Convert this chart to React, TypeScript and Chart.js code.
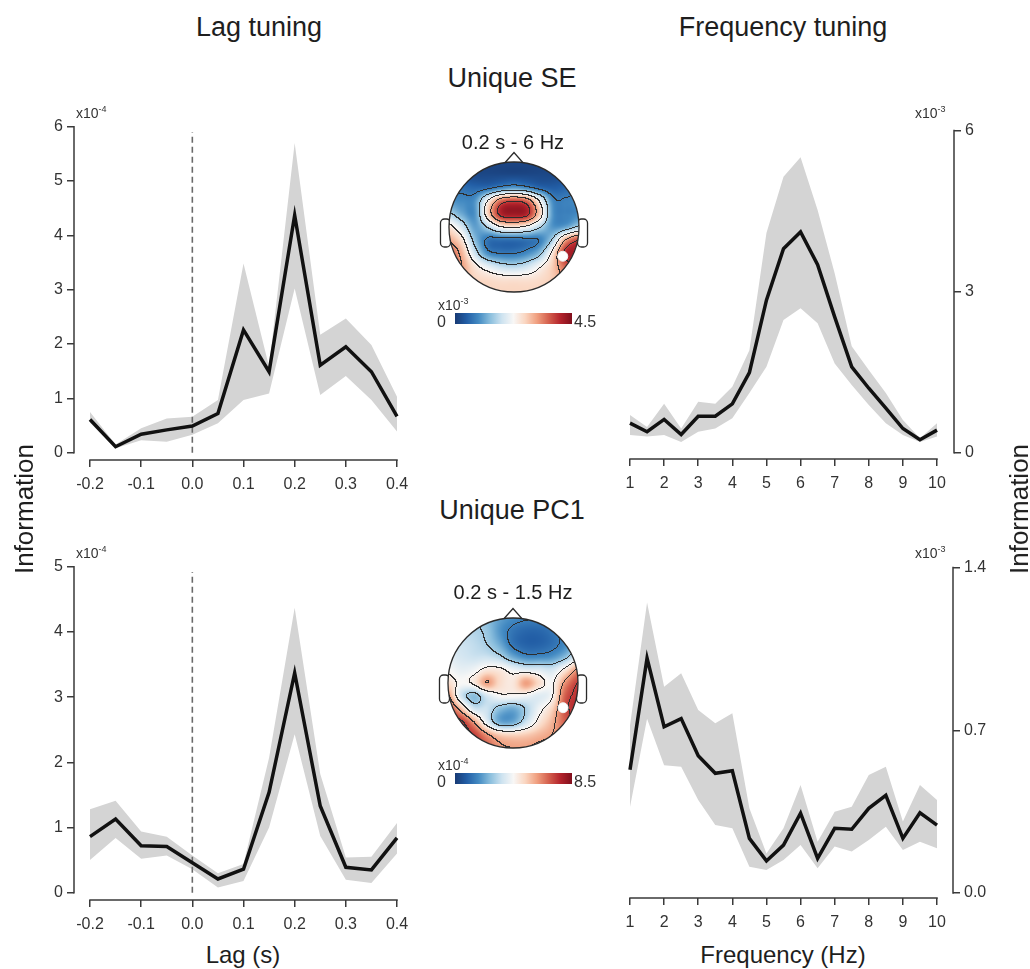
import React, { useEffect, useRef } from "react";
import { Chart, registerables } from "chart.js";

Chart.register(...registerables);

const FONT = '"Liberation Sans", Arial, Helvetica, sans-serif';

// ---------------- data ----------------
const lagValues = [-0.2, -0.15, -0.1, -0.05, 0.0, 0.05, 0.1, 0.15, 0.2, 0.25, 0.3, 0.35, 0.4];
const freqValues = [1, 1.5, 2, 2.5, 3, 3.5, 4, 4.5, 5, 5.5, 6, 6.5, 7, 7.5, 8, 8.5, 9, 9.5, 10];

// Unique SE — lag tuning (x10^-4)
const seLagMean = [0.61, 0.11, 0.34, 0.42, 0.49, 0.72, 2.26, 1.49, 4.37, 1.61, 1.95, 1.49, 0.67];
const seLagUpper = [0.75, 0.15, 0.45, 0.63, 0.66, 0.97, 3.48, 1.58, 5.7, 2.17, 2.47, 1.98, 1.03];
const seLagLower = [0.55, 0.08, 0.23, 0.2, 0.33, 0.54, 0.97, 1.09, 3.02, 1.06, 1.41, 0.97, 0.39];

// Unique SE — frequency tuning (x10^-3)
const seFreqMean = [0.55, 0.39, 0.62, 0.34, 0.68, 0.68, 0.91, 1.49, 2.84, 3.8, 4.11, 3.5, 2.53, 1.6, 1.2, 0.83, 0.45, 0.24, 0.42];
const seFreqUpper = [0.7, 0.48, 0.91, 0.45, 0.95, 0.91, 1.23, 1.91, 4.09, 5.14, 5.5, 4.52, 3.34, 1.98, 1.54, 1.11, 0.61, 0.27, 0.55];
const seFreqLower = [0.33, 0.3, 0.33, 0.2, 0.39, 0.45, 0.64, 1.11, 1.6, 2.47, 2.69, 2.41, 1.66, 1.26, 0.89, 0.55, 0.33, 0.2, 0.3];

// Unique PC1 — lag tuning (x10^-4)
const pc1LagMean = [0.86, 1.13, 0.72, 0.71, 0.46, 0.21, 0.36, 1.54, 3.37, 1.33, 0.39, 0.35, 0.84];
const pc1LagUpper = [1.28, 1.41, 0.94, 0.86, 0.57, 0.3, 0.44, 2.07, 4.37, 1.82, 0.54, 0.55, 1.07];
const pc1LagLower = [0.5, 0.84, 0.52, 0.57, 0.36, 0.08, 0.18, 1.0, 2.43, 0.87, 0.2, 0.15, 0.6];

// Unique PC1 — frequency tuning (x10^-3)
const pc1FreqMean = [0.53, 1.01, 0.715, 0.75, 0.59, 0.515, 0.526, 0.235, 0.138, 0.206, 0.343, 0.149, 0.278, 0.274, 0.364, 0.42, 0.235, 0.345, 0.292];
const pc1FreqUpper = [0.72, 1.25, 0.887, 0.945, 0.787, 0.73, 0.773, 0.364, 0.17, 0.278, 0.465, 0.22, 0.35, 0.371, 0.507, 0.543, 0.307, 0.465, 0.4];
const pc1FreqLower = [0.37, 0.75, 0.55, 0.543, 0.4, 0.292, 0.278, 0.113, 0.099, 0.142, 0.206, 0.106, 0.2, 0.178, 0.228, 0.285, 0.185, 0.22, 0.192];

// ticks
const lagTicks = [-0.2, -0.1, 0, 0.1, 0.2, 0.3, 0.4];
const lagTickLabels = ["-0.2", "-0.1", "0.0", "0.1", "0.2", "0.3", "0.4"];
const freqTicks = [1, 2, 3, 4, 5, 6, 7, 8, 9, 10];
const freqTickLabels = ["1", "2", "3", "4", "5", "6", "7", "8", "9", "10"];
const seLagYTicks = [0, 1, 2, 3, 4, 5, 6];
const seLagYLabels = ["0", "1", "2", "3", "4", "5", "6"];
const seFreqYTicks = [0, 3, 6];
const seFreqYLabels = ["0", "3", "6"];
const pc1LagYTicks = [0, 1, 2, 3, 4, 5];
const pc1LagYLabels = ["0", "1", "2", "3", "4", "5"];
const pc1FreqYTicks = [0, 0.7, 1.4];
const pc1FreqYLabels = ["0.0", "0.7", "1.4"];

// dashed zero-lag marker heights
const seLagZeroTop = 5.9;
const pc1LagZeroTop = 4.92;

// topographies (normalised 0..1 of colour range), rows front(top) -> back(bottom), cols left -> right
const seTopoGrid = [
  [0.03, 0.03, 0.03, 0.03, 0.03, 0.03, 0.03, 0.03, 0.03, 0.03, 0.03],
  [0.06, 0.05, 0.04, 0.04, 0.04, 0.04, 0.04, 0.04, 0.04, 0.05, 0.06],
  [0.16, 0.14, 0.12, 0.14, 0.2, 0.24, 0.2, 0.13, 0.1, 0.12, 0.15],
  [0.22, 0.2, 0.22, 0.52, 0.78, 0.84, 0.78, 0.5, 0.2, 0.18, 0.2],
  [0.36, 0.26, 0.22, 0.6, 0.9, 0.94, 0.9, 0.6, 0.22, 0.18, 0.2],
  [0.56, 0.42, 0.24, 0.36, 0.52, 0.55, 0.5, 0.36, 0.22, 0.25, 0.36],
  [0.68, 0.56, 0.3, 0.15, 0.14, 0.14, 0.15, 0.18, 0.36, 0.7, 0.85],
  [0.8, 0.66, 0.4, 0.2, 0.16, 0.16, 0.2, 0.3, 0.56, 0.9, 0.92],
  [0.8, 0.7, 0.55, 0.45, 0.38, 0.36, 0.4, 0.5, 0.62, 0.8, 0.82],
  [0.72, 0.66, 0.6, 0.58, 0.56, 0.56, 0.56, 0.58, 0.62, 0.7, 0.72],
  [0.62, 0.62, 0.62, 0.6, 0.6, 0.6, 0.6, 0.6, 0.62, 0.62, 0.62],
];
const pc1TopoGrid = [
  [0.38, 0.36, 0.34, 0.3, 0.24, 0.2, 0.18, 0.18, 0.2, 0.24, 0.3],
  [0.4, 0.38, 0.36, 0.32, 0.22, 0.15, 0.12, 0.12, 0.15, 0.22, 0.3],
  [0.42, 0.4, 0.38, 0.34, 0.26, 0.15, 0.11, 0.11, 0.14, 0.2, 0.3],
  [0.45, 0.42, 0.4, 0.4, 0.36, 0.26, 0.2, 0.2, 0.22, 0.3, 0.45],
  [0.5, 0.46, 0.48, 0.55, 0.54, 0.48, 0.45, 0.44, 0.42, 0.55, 0.72],
  [0.58, 0.5, 0.54, 0.7, 0.58, 0.55, 0.7, 0.58, 0.5, 0.72, 0.86],
  [0.72, 0.42, 0.3, 0.42, 0.5, 0.5, 0.48, 0.44, 0.5, 0.8, 0.88],
  [0.85, 0.65, 0.42, 0.4, 0.3, 0.26, 0.35, 0.48, 0.6, 0.82, 0.9],
  [0.9, 0.88, 0.7, 0.45, 0.26, 0.26, 0.4, 0.55, 0.66, 0.8, 0.86],
  [0.92, 0.9, 0.86, 0.72, 0.62, 0.6, 0.62, 0.66, 0.7, 0.76, 0.8],
  [0.92, 0.9, 0.88, 0.8, 0.72, 0.7, 0.7, 0.72, 0.74, 0.78, 0.8],
];
const seElectrode = [{ x: 0.75, y: -0.45 }];
const pc1Electrode = [{ x: 0.77, y: -0.38 }];
const seColorbarLabels = ["0", "4.5"];
const pc1ColorbarLabels = ["0", "8.5"];

// ---------------- styles ----------------
const CMAP: [number, number[]][] = [
  [0.0, [24, 58, 116]],
  [0.1, [34, 94, 166]],
  [0.2, [67, 138, 194]],
  [0.3, [138, 190, 221]],
  [0.4, [206, 227, 240]],
  [0.5, [248, 247, 246]],
  [0.6, [250, 214, 193]],
  [0.7, [240, 160, 128]],
  [0.8, [212, 96, 78]],
  [0.9, [180, 36, 44]],
  [1.0, [128, 14, 28]],
];
const CONTOUR_LEVELS = [0.17, 0.34, 0.52, 0.7, 0.86];

function cmap(t: number): number[] {
  const v = Math.max(0, Math.min(1, t));
  for (let i = 1; i < CMAP.length; i++) {
    if (v <= CMAP[i][0]) {
      const [t0, c0] = CMAP[i - 1];
      const [t1, c1] = CMAP[i];
      const f = (v - t0) / (t1 - t0);
      return [c0[0] + (c1[0] - c0[0]) * f, c0[1] + (c1[1] - c0[1]) * f, c0[2] + (c1[2] - c0[2]) * f];
    }
  }
  return CMAP[CMAP.length - 1][1];
}

function cr(p0: number, p1: number, p2: number, p3: number, t: number) {
  return p1 + 0.5 * t * (p2 - p0 + t * (2 * p0 - 5 * p1 + 4 * p2 - p3 + t * (3 * (p1 - p2) + p3 - p0)));
}

function sampleGrid(g: number[][], u: number, v: number) {
  const rows = g.length;
  const cols = g[0].length;
  const gx = ((u + 1) / 2) * (cols - 1);
  const gy = ((1 - v) / 2) * (rows - 1);
  const ix = Math.floor(gx);
  const iy = Math.floor(gy);
  const fx = gx - ix;
  const fy = gy - iy;
  const at = (r: number, c: number) => g[Math.max(0, Math.min(rows - 1, r))][Math.max(0, Math.min(cols - 1, c))];
  const rv: number[] = [];
  for (let k = -1; k <= 2; k++) rv.push(cr(at(iy + k, ix - 1), at(iy + k, ix), at(iy + k, ix + 1), at(iy + k, ix + 2), fx));
  return cr(rv[0], rv[1], rv[2], rv[3], fy);
}

// ---------------- line chart ----------------
type Box = { left: number; top: number; width: number; height: number };
type LineProps = {
  box: Box;
  ySide: "left" | "right";
  yAxisPx: number;
  xAxisPx: number;
  xFirstPx: number;
  xLastPx: number;
  yZeroPx: number;
  yTopPx: number;
  xVals: number[];
  mean: number[];
  upper: number[];
  lower: number[];
  xTicks: number[];
  xLabels: string[];
  yTicks: number[];
  yLabels: string[];
  dashTop?: number;
};

const axisLinePlugin = {
  id: "axisLines",
  afterDraw(chart: any) {
    const { ctx, chartArea } = chart;
    const xs = chart.scales.x;
    const ys = chart.scales.y;
    const xt = xs.ticks;
    const yt = ys.ticks;
    ctx.save();
    ctx.strokeStyle = "#3a3a3a";
    ctx.lineWidth = 1.5;
    ctx.beginPath();
    ctx.moveTo(xs.getPixelForValue(xt[0].value) - 0.75, chartArea.bottom);
    ctx.lineTo(xs.getPixelForValue(xt[xt.length - 1].value) + 0.75, chartArea.bottom);
    const yx = ys.position === "left" ? chartArea.left : chartArea.right;
    ctx.moveTo(yx, ys.getPixelForValue(yt[0].value) + 0.75);
    ctx.lineTo(yx, ys.getPixelForValue(yt[yt.length - 1].value) - 0.75);
    ctx.stroke();
    ctx.restore();
  },
};

function LineChart(p: LineProps) {
  const ref = useRef<HTMLCanvasElement>(null);
  useEffect(() => {
    const yW = 50;
    const xH = 40;
    const xFirst = p.xTicks[0];
    const xLast = p.xTicks[p.xTicks.length - 1];
    const xppu = (p.xLastPx - p.xFirstPx) / (xLast - xFirst);
    const yTop = p.yTicks[p.yTicks.length - 1];
    const yppu = (p.yZeroPx - p.yTopPx) / yTop;
    let areaLeft: number, areaRight: number, xMin: number, xMax: number;
    if (p.ySide === "left") {
      areaLeft = p.yAxisPx;
      areaRight = p.xLastPx;
      xMin = xFirst - (p.xFirstPx - p.yAxisPx) / xppu;
      xMax = xLast;
    } else {
      areaLeft = p.xFirstPx;
      areaRight = p.yAxisPx;
      xMin = xFirst;
      xMax = xLast + (p.yAxisPx - p.xLastPx) / xppu;
    }
    const yMin = -(p.xAxisPx - p.yZeroPx) / yppu;
    const padding = {
      left: areaLeft - p.box.left - (p.ySide === "left" ? yW : 0),
      right: p.box.left + p.box.width - areaRight - (p.ySide === "right" ? yW : 0),
      top: p.yTopPx - p.box.top,
      bottom: p.box.top + p.box.height - p.xAxisPx - xH,
    };
    const pts = (ys: number[]) => p.xVals.map((x, i) => ({ x, y: ys[i] }));
    const datasets: any[] = [
      {
        label: "mean",
        data: pts(p.mean),
        borderColor: "#111111",
        borderWidth: 3.5,
        borderJoinStyle: "miter",
        pointRadius: 0,
        fill: false,
        clip: false,
        order: 0,
      },
    ];
    if (p.dashTop !== undefined) {
      datasets.push({
        label: "zero",
        data: [
          { x: 0, y: 0 },
          { x: 0, y: p.dashTop },
        ],
        borderColor: "#6a6a6a",
        borderWidth: 1.6,
        borderDash: [6, 4],
        pointRadius: 0,
        fill: false,
        order: 1,
      });
    }
    datasets.push({
      label: "upper",
      data: pts(p.upper),
      borderColor: "rgba(0,0,0,0)",
      borderWidth: 0,
      backgroundColor: "#d4d4d4",
      pointRadius: 0,
      fill: "+1",
      order: 2,
    });
    datasets.push({
      label: "lower",
      data: pts(p.lower),
      borderColor: "rgba(0,0,0,0)",
      borderWidth: 0,
      pointRadius: 0,
      fill: false,
      order: 3,
    });
    const tickFont = { family: FONT, size: 16 };
    const grid = { display: true, drawOnChartArea: false, drawTicks: true, tickLength: 7, color: "#3a3a3a", lineWidth: 1.5 };
    const chart = new Chart(ref.current as HTMLCanvasElement, {
      type: "line",
      data: { datasets },
      options: {
        animation: false,
        responsive: false,
        events: [],
        layout: { padding },
        plugins: { legend: { display: false }, tooltip: { enabled: false }, title: { display: false } },
        scales: {
          x: {
            type: "linear",
            min: xMin,
            max: xMax,
            bounds: "data",
            position: "bottom",
            afterBuildTicks: (s: any) => {
              s.ticks = p.xTicks.map((v) => ({ value: v }));
            },
            afterFit: (s: any) => {
              s.height = xH;
            },
            ticks: {
              callback: (_v: any, i: number) => p.xLabels[i],
              font: tickFont,
              color: "#333",
              padding: 8,
              maxRotation: 0,
              autoSkip: false,
            },
            grid,
            border: { display: false },
          },
          y: {
            type: "linear",
            min: yMin,
            max: yTop,
            bounds: "data",
            position: p.ySide,
            afterBuildTicks: (s: any) => {
              s.ticks = p.yTicks.map((v) => ({ value: v }));
            },
            afterFit: (s: any) => {
              s.width = yW;
            },
            ticks: {
              callback: (_v: any, i: number) => p.yLabels[i],
              font: tickFont,
              color: "#333",
              padding: 4,
              autoSkip: false,
            },
            grid,
            border: { display: false },
          },
        },
      } as any,
      plugins: [axisLinePlugin],
    });
    return () => chart.destroy();
  }, []);
  return (
    <canvas
      ref={ref}
      width={p.box.width}
      height={p.box.height}
      style={{ position: "absolute", left: p.box.left, top: p.box.top, width: p.box.width, height: p.box.height }}
    />
  );
}

// ---------------- topography ----------------
type TopoProps = { grid: number[][]; electrode: { x: number; y: number }[]; left: number; top: number };

function TopoMap({ grid, electrode, left, top }: TopoProps) {
  const ref = useRef<HTMLCanvasElement>(null);
  useEffect(() => {
    const headPlugin = {
      id: "head",
      beforeDatasetsDraw(chart: any) {
        const { ctx } = chart;
        const xs = chart.scales.x;
        const ys = chart.scales.y;
        const cx = xs.getPixelForValue(0);
        const cy = ys.getPixelForValue(0);
        const r = xs.getPixelForValue(1) - cx;
        ctx.save();
        ctx.lineWidth = 1.3;
        ctx.strokeStyle = "#2a2a2a";
        ctx.fillStyle = "#ffffff";
        // ears
        for (const side of [-1, 1]) {
          const ex = side < 0 ? cx - r - 8.5 : cx + r - 1.5;
          ctx.beginPath();
          ctx.roundRect(ex, cy - 8, 10, 28, 4);
          ctx.fill();
          ctx.stroke();
        }
        // nose
        ctx.beginPath();
        ctx.moveTo(cx - 12, cy - r + 4);
        ctx.lineTo(cx, cy - r - 9.5);
        ctx.lineTo(cx + 12, cy - r + 4);
        ctx.closePath();
        ctx.fill();
        ctx.stroke();
        // interpolated map
        const S = Math.round(2 * r);
        const off = document.createElement("canvas");
        off.width = S;
        off.height = S;
        const octx = off.getContext("2d") as CanvasRenderingContext2D;
        const img = octx.createImageData(S, S);
        const lev = new Int8Array(S * S);
        const vals = new Float32Array(S * S);
        for (let py = 0; py < S; py++) {
          for (let px = 0; px < S; px++) {
            const u = ((px + 0.5) / S) * 2 - 1;
            const v = 1 - ((py + 0.5) / S) * 2;
            const val = sampleGrid(grid, u, v);
            vals[py * S + px] = val;
            let l = 0;
            for (const c of CONTOUR_LEVELS) if (val > c) l++;
            lev[py * S + px] = l;
          }
        }
        for (let py = 0; py < S; py++) {
          for (let px = 0; px < S; px++) {
            const k = py * S + px;
            let col = cmap(vals[k]);
            const isC =
              (px + 1 < S && lev[k] !== lev[k + 1]) || (py + 1 < S && lev[k] !== lev[k + S]);
            if (isC) col = [45, 45, 45];
            img.data[k * 4] = col[0];
            img.data[k * 4 + 1] = col[1];
            img.data[k * 4 + 2] = col[2];
            img.data[k * 4 + 3] = 255;
          }
        }
        octx.putImageData(img, 0, 0);
        ctx.save();
        ctx.beginPath();
        ctx.arc(cx, cy, r, 0, Math.PI * 2);
        ctx.clip();
        ctx.drawImage(off, cx - r, cy - r, S, S);
        ctx.restore();
        ctx.beginPath();
        ctx.arc(cx, cy, r, 0, Math.PI * 2);
        ctx.stroke();
        ctx.restore();
      },
    };
    const chart = new Chart(ref.current as HTMLCanvasElement, {
      type: "scatter",
      data: {
        datasets: [
          {
            data: electrode,
            pointRadius: 5,
            pointBackgroundColor: "#ffffff",
            pointBorderColor: "#f2f2f2",
            pointBorderWidth: 1,
          },
        ],
      },
      options: {
        animation: false,
        responsive: false,
        events: [],
        layout: { padding: 0 },
        plugins: { legend: { display: false }, tooltip: { enabled: false } },
        scales: {
          x: { type: "linear", display: false, min: -1.215, max: 1.215 },
          y: { type: "linear", display: false, min: -1.215, max: 1.215 },
        },
      } as any,
      plugins: [headPlugin],
    });
    return () => chart.destroy();
  }, []);
  return (
    <canvas ref={ref} width={170} height={170} style={{ position: "absolute", left, top, width: 170, height: 170 }} />
  );
}

// ---------------- text helpers ----------------
function T({ x, y, size, children, rotate }: { x: number; y: number; size: number; children: any; rotate?: boolean }) {
  return (
    <div
      style={{
        position: "absolute",
        left: x,
        top: y,
        fontSize: size,
        lineHeight: 1,
        whiteSpace: "nowrap",
        transform: `translate(-50%, -50%)${rotate ? " rotate(-90deg)" : ""}`,
        color: "#1e1e1e",
      }}
    >
      {children}
    </div>
  );
}

function Exp({ x, y, exp }: { x: number; y: number; exp: string }) {
  return (
    <div style={{ position: "absolute", left: x, top: y, fontSize: 14, lineHeight: 1, whiteSpace: "nowrap", color: "#333" }}>
      x10
      <span style={{ fontSize: 9, position: "relative", top: -6 }}>{exp}</span>
    </div>
  );
}

const gradientCss =
  "linear-gradient(to right, " +
  CMAP.map(([t, c]) => `rgb(${c[0]},${c[1]},${c[2]}) ${t * 100}%`).join(", ") +
  ")";

function Colorbar({ top, labels, exp }: { top: number; labels: string[]; exp: string }) {
  return (
    <>
      <Exp x={438} y={top - 15} exp={exp} />
      <div style={{ position: "absolute", left: 437, top: top + 1, fontSize: 16, lineHeight: 1, color: "#333" }}>{labels[0]}</div>
      <div style={{ position: "absolute", left: 455, top, width: 117, height: 11, background: gradientCss }} />
      <div style={{ position: "absolute", left: 574, top: top + 1, fontSize: 16, lineHeight: 1, color: "#333" }}>{labels[1]}</div>
    </>
  );
}

export default function App() {
  return (
    <div
      style={{
        position: "absolute",
        left: 0,
        top: 0,
        width: 1030,
        height: 969,
        background: "#ffffff",
        fontFamily: FONT,
        overflow: "hidden",
      }}
    >
      <LineChart
        box={{ left: 0, top: 100, width: 420, height: 400 }}
        ySide="left"
        yAxisPx={74}
        xAxisPx={460}
        xFirstPx={90}
        xLastPx={397}
        yZeroPx={452.7}
        yTopPx={126.7}
        xVals={lagValues}
        mean={seLagMean}
        upper={seLagUpper}
        lower={seLagLower}
        xTicks={lagTicks}
        xLabels={lagTickLabels}
        yTicks={seLagYTicks}
        yLabels={seLagYLabels}
        dashTop={seLagZeroTop}
      />
      <LineChart
        box={{ left: 600, top: 100, width: 420, height: 400 }}
        ySide="right"
        yAxisPx={954}
        xAxisPx={459}
        xFirstPx={630}
        xLastPx={937}
        yZeroPx={452.7}
        yTopPx={130.5}
        xVals={freqValues}
        mean={seFreqMean}
        upper={seFreqUpper}
        lower={seFreqLower}
        xTicks={freqTicks}
        xLabels={freqTickLabels}
        yTicks={seFreqYTicks}
        yLabels={seFreqYLabels}
      />
      <LineChart
        box={{ left: 0, top: 540, width: 420, height: 400 }}
        ySide="left"
        yAxisPx={74}
        xAxisPx={900}
        xFirstPx={90}
        xLastPx={397}
        yZeroPx={892.7}
        yTopPx={566.7}
        xVals={lagValues}
        mean={pc1LagMean}
        upper={pc1LagUpper}
        lower={pc1LagLower}
        xTicks={lagTicks}
        xLabels={lagTickLabels}
        yTicks={pc1LagYTicks}
        yLabels={pc1LagYLabels}
        dashTop={pc1LagZeroTop}
      />
      <LineChart
        box={{ left: 600, top: 540, width: 420, height: 400 }}
        ySide="right"
        yAxisPx={953}
        xAxisPx={898}
        xFirstPx={630}
        xLastPx={937}
        yZeroPx={893}
        yTopPx={567.5}
        xVals={freqValues}
        mean={pc1FreqMean}
        upper={pc1FreqUpper}
        lower={pc1FreqLower}
        xTicks={freqTicks}
        xLabels={freqTickLabels}
        yTicks={pc1FreqYTicks}
        yLabels={pc1FreqYLabels}
      />

      <TopoMap grid={seTopoGrid} electrode={seElectrode} left={429} top={142} />
      <TopoMap grid={pc1TopoGrid} electrode={pc1Electrode} left={428} top={598} />

      <T x={259} y={27} size={27}>Lag tuning</T>
      <T x={783} y={27} size={27}>Frequency tuning</T>
      <T x={512} y={78} size={27}>Unique SE</T>
      <T x={512} y={510} size={27}>Unique PC1</T>
      <T x={24} y={509} size={26} rotate>Information</T>
      <T x={1019} y={509} size={26} rotate>Information</T>
      <T x={243} y={955} size={24}>Lag (s)</T>
      <T x={783} y={955} size={24}>Frequency (Hz)</T>
      <T x={513} y={142} size={20}>0.2 s - 6 Hz</T>
      <T x={513} y={592} size={20}>0.2 s - 1.5 Hz</T>

      <Exp x={76} y={106} exp="-4" />
      <Exp x={915} y={106} exp="-3" />
      <Exp x={76} y={546} exp="-4" />
      <Exp x={915} y={546} exp="-3" />

      <Colorbar top={313} labels={seColorbarLabels} exp="-3" />
      <Colorbar top={773} labels={pc1ColorbarLabels} exp="-4" />
    </div>
  );
}
